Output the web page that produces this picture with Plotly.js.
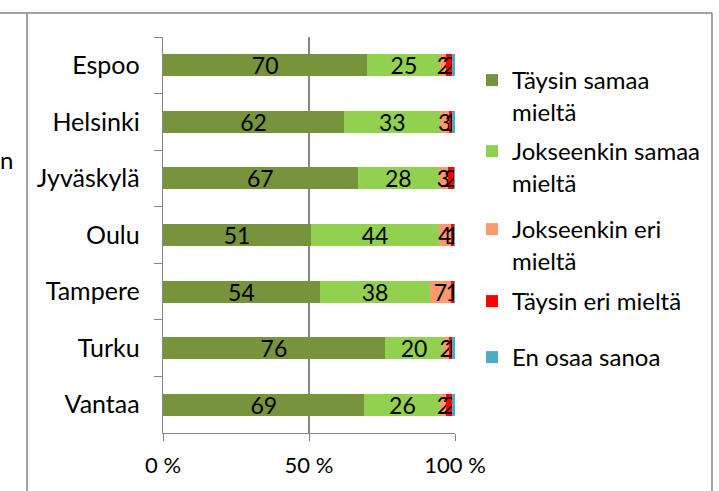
<!DOCTYPE html>
<html><head><meta charset="utf-8">
<script src="https://cdn.plot.ly/plotly-3.0.1.min.js"></script>
<style>html,body{margin:0;padding:0;background:#fff;}#chart{width:719px;height:491px;}</style>
</head><body><div id="chart"></div>
<script>
const cities = ["Espoo","Helsinki","Jyväskylä","Oulu","Tampere","Turku","Vantaa"];
const taysinSamaa = [70,62,67,51,54,76,69];
const jokseenkinSamaa = [25,33,28,44,38,20,26];
const jokseenkinEri = [2,3,3,4,7,2,2];
const taysinEri = [2,1,2,1,1,1,2];
const enOsaa = [1,1,0.5,0.5,0.5,1,1];
const seriesNames = ["Täysin samaa<br>mieltä","Jokseenkin samaa<br>mieltä","Jokseenkin eri<br>mieltä","Täysin eri mieltä","En osaa sanoa"];
const seriesColors = ["#77933C","#92D050","#FF9A70","#FF0000","#4BACC6"];
const seriesData = [taysinSamaa,jokseenkinSamaa,jokseenkinEri,taysinEri,enOsaa];
const xTickVals = [0,50,100];
const xTickText = ["0 %","50 %","100 %"];

const F = "Lato, 'Open Sans', sans-serif";
const W=719,H=491,L=163,R=455,T=37,B=433;
const px=(x)=>(x-L)/(R-L), py=(y)=>(B-y)/(B-T);
const legendMarkerY = [75,146,224,296,352];
const legendKeys = ["legend","legend2","legend3","legend4","legend5"];

const traces = seriesData.map((vals,i)=>{
  const tot = vals.map((v,j)=>seriesData.reduce((s,a)=>s+a[j],0));
  return {
    type:"bar", orientation:"h", y:cities, x:vals.map((v,j)=>v/tot[j]*100),
    name:seriesNames[i], marker:{color:seriesColors[i]},
    text: i<4 ? vals.map(v=>String(v)) : vals.map(()=>""),
    textposition:"inside", insidetextanchor:"middle", constraintext:"none", textangle:0,
    textfont:{family:F,size:23,color:"#000"}, hoverinfo:"none",
    legend:legendKeys[i]
  };
});
const layout = {
  width:W,height:H,margin:{l:L,r:W-R,t:T,b:H-B,autoexpand:false},
  paper_bgcolor:"#fff",plot_bgcolor:"#fff",
  barmode:"stack",bargap:0.61,showlegend:true,
  font:{family:F,size:22,color:"#000"},
  xaxis:{range:[0,100],tickvals:xTickVals,ticktext:xTickText,showgrid:true,gridcolor:"#868686",gridwidth:1.3,
    showline:true,linecolor:"#868686",linewidth:1.3,ticks:"outside",ticklen:7,tickcolor:"#868686",
    tickfont:{family:F,size:22},ticklabelstandoff:5,zeroline:false,fixedrange:true},
  yaxis:{autorange:"reversed",type:"category",showline:true,linecolor:"#868686",linewidth:1.3,ticks:"outside",ticklen:8,
    tickcolor:"#868686",tickson:"boundaries",tickfont:{family:F,size:25},ticklabelstandoff:17,showgrid:false},
  shapes:[
    {type:"line",xref:"paper",yref:"paper",x0:px(0),x1:px(712),y0:py(13),y1:py(13),line:{color:"#868686",width:1.5}},
    {type:"line",xref:"paper",yref:"paper",x0:px(27),x1:px(27),y0:py(13),y1:py(491),line:{color:"#868686",width:1.5}},
    {type:"line",xref:"paper",yref:"paper",x0:px(712),x1:px(712),y0:py(13),y1:py(491),line:{color:"#868686",width:1.5}}
  ],
  annotations:[{text:"n",xref:"paper",yref:"paper",x:px(-2),y:py(160),xanchor:"left",yanchor:"middle",showarrow:false,font:{family:F,size:24}}]
};
legendKeys.forEach((k,i)=>{
  layout[k] = {xref:"container",yref:"container",x:472/W,y:1-(legendMarkerY[i]-17)/H,xanchor:"left",yanchor:"top",
    font:{family:F,size:24},valign:"top",itemwidth:20,bgcolor:"rgba(0,0,0,0)",borderwidth:0};
});
Plotly.newPlot("chart",traces,layout,{displayModeBar:false,staticPlot:true});
</script></body></html>
